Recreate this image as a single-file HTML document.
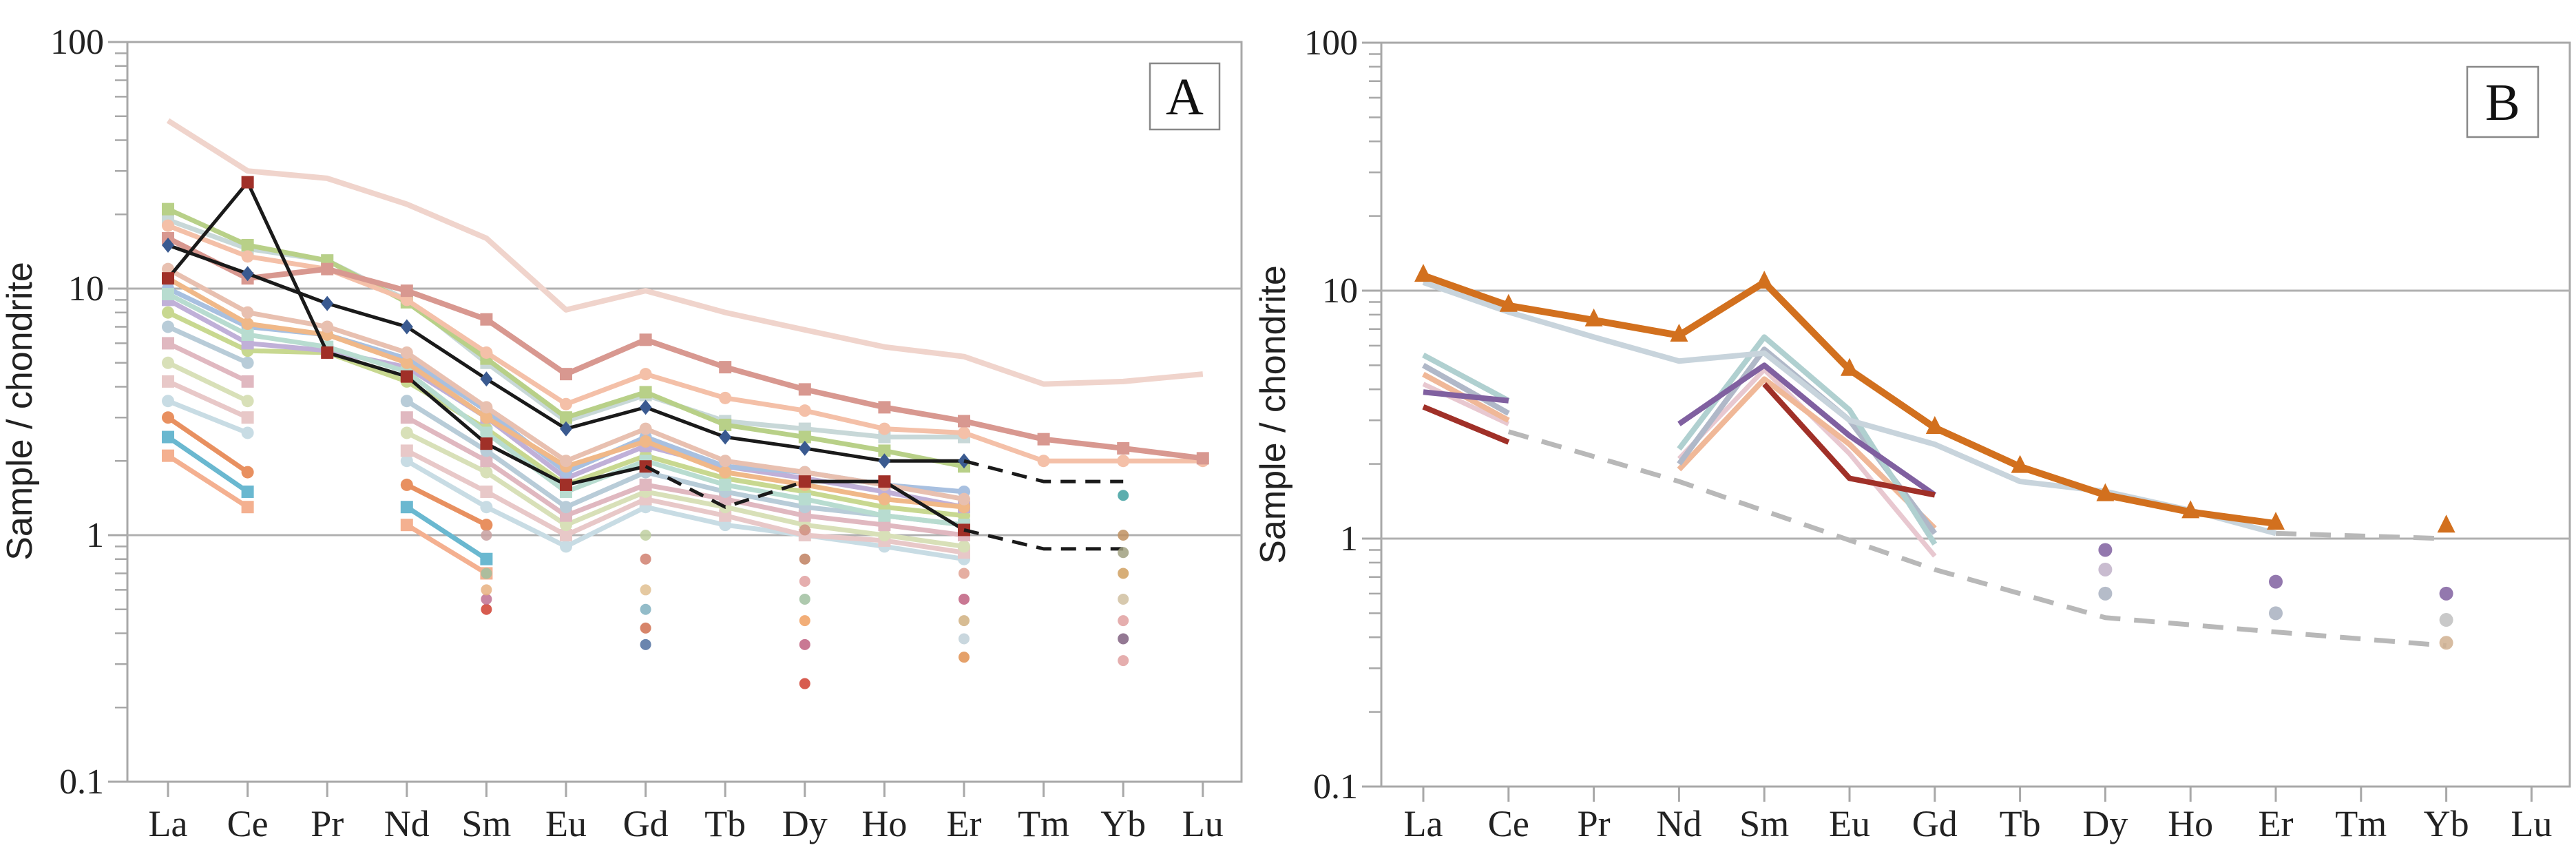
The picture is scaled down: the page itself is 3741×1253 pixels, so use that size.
<!DOCTYPE html>
<html><head><meta charset="utf-8"><style>
html,body{margin:0;padding:0;background:#fff;}
svg{display:block;font-family:"Liberation Serif",serif;}
</style></head><body>
<svg id="chart" width="3741" height="1253" viewBox="0 0 3741 1253">
<g id="panelA"></g>
<g id="panelB"></g>
</svg>
<script>
const elements = ["La","Ce","Pr","Nd","Sm","Eu","Gd","Tb","Dy","Ho","Er","Tm","Yb","Lu"];
const yTicks = [100,10,1,0.1];
const yTickLabels = ["100","10","1","0.1"];

// Panel A series (null = gap)
const aPaleTop   = [48,30,28,22,16,8.2,9.8,8,6.8,5.8,5.3,4.1,4.2,4.5];
const aRose      = [16,11,12,9.8,7.5,4.5,6.2,4.8,3.9,3.3,2.9,2.45,2.25,2.05];
const aPeach     = [18,13.5,12,9,5.5,3.4,4.5,3.6,3.2,2.7,2.6,2.0,2.0,2.0];
const aGreen     = [21,15,13,8.8,5.2,3.0,3.8,2.8,2.5,2.2,1.9,null,null,null];
const aGreyBlue  = [19,14.5,13,9,5,2.9,3.7,2.9,2.7,2.5,2.5,null,null,null];
const aBlack1    = [15,11.5,8.7,7,4.3,2.7,3.3,2.5,2.25,2.0,2.0,null,null,null];
const aBlack1Tail= [null,null,null,null,null,null,null,null,null,null,2.0,1.65,1.65,null];
const aBlack2    = [11,27,5.5,4.4,2.35,1.6,1.9,null,1.65,1.65,1.05,null,null,null];
const aBlack2Gap = [null,null,null,null,null,null,1.9,1.3,1.65,null,null,null,null,null];
const aBlack2Tail= [null,null,null,null,null,null,null,null,null,null,1.05,0.88,0.88,null];
const aL1 = [10,7,6.5,5.2,3.2,1.8,2.5,1.9,1.8,1.6,1.5,null,null,null];
const aL2 = [9,6,5.6,4.8,3,1.7,2.3,1.9,1.7,1.5,1.3,null,null,null];
const aL3 = [8,5.6,5.5,4.2,2.7,1.6,2.1,1.7,1.5,1.3,1.2,null,null,null];
const aL4 = [12,8,7,5.5,3.3,2,2.7,2.0,1.8,1.6,1.4,null,null,null];
const aL5 = [7,5,null,3.5,2.2,1.3,1.8,1.5,1.3,1.2,1.1,null,null,null];
const aL6 = [6,4.2,null,3,2,1.2,1.6,1.4,1.2,1.1,1.0,null,null,null];
const aL7 = [5,3.5,null,2.6,1.8,1.1,1.5,1.3,1.1,1.0,0.9,null,null,null];
const aL8 = [4.2,3,null,2.2,1.5,1.0,1.4,1.2,1.0,0.95,0.85,null,null,null];
const aL9 = [3.5,2.6,null,2.0,1.3,0.9,1.3,1.1,1.0,0.9,0.8,null,null,null];
const aL10= [3,1.8,null,1.6,1.1,null,null,null,null,null,null,null,null,null];
const aL11= [2.5,1.5,null,1.3,0.8,null,null,null,null,null,null,null,null,null];
const aL12= [2.1,1.3,null,1.1,0.7,null,null,null,null,null,null,null,null,null];
const aL13= [11,7.2,6.5,5,3,1.9,2.4,1.8,1.6,1.4,1.3,null,null,null];
const aL14= [9.5,6.5,5.8,4.6,2.6,1.5,2.0,1.6,1.4,1.2,1.1,null,null,null];

const seriesA = [
 {v:aPaleTop,c:"#f0d4cc",w:8,m:"none"},
 {v:aL12,c:"#f4b090",w:7,m:"sq"},{v:aL11,c:"#6ab8d0",w:7,m:"sq"},{v:aL10,c:"#e89060",w:7,m:"ci"},
 {v:aL9,c:"#c8dce4",w:7,m:"ci"},{v:aL8,c:"#e8c8c8",w:7,m:"sq"},{v:aL7,c:"#d8e0b8",w:7,m:"ci"},
 {v:aL6,c:"#e0b8c0",w:7,m:"sq"},{v:aL5,c:"#b8ccd8",w:7,m:"ci"},{v:aL3,c:"#c8d890",w:7,m:"ci"},
 {v:aL2,c:"#c0b0d8",w:7,m:"sq"},{v:aL1,c:"#a8c0e0",w:7,m:"ci"},{v:aL14,c:"#b8dcd0",w:7,m:"sq"},
 {v:aL13,c:"#f0b888",w:7,m:"ci"},{v:aL4,c:"#e8c0b0",w:7,m:"ci"},
 {v:aGreyBlue,c:"#c8d8d8",w:7,m:"sq"},{v:aGreen,c:"#b8d088",w:7,m:"sq"},
 {v:aPeach,c:"#f4c0a8",w:7,m:"ci"},{v:aRose,c:"#d89890",w:8,m:"sq"},
 {v:aBlack1,c:"#1a1a1a",w:5,m:"dia",mc:"#3a5a90"},
 {v:aBlack1Tail,c:"#1a1a1a",w:5,m:"none",dash:"22 14"},
 {v:aBlack2,c:"#1a1a1a",w:5,m:"sq",mc:"#a03028"},
 {v:aBlack2Gap,c:"#1a1a1a",w:5,m:"none",dash:"22 14"},
 {v:aBlack2Tail,c:"#1a1a1a",w:5,m:"none",dash:"22 14"}
];
// Panel A isolated points: [element index, value]
const aPtIdx = [4,4,4,4,4,6,6,6,6,6,6,8,8,8,8,8,8,8,10,10,10,10,10,12,12,12,12,12,12,12,12];
const aPtVal = [0.5,0.55,0.6,0.7,1.0,0.36,0.42,0.5,0.6,0.8,1.0,0.25,0.36,0.45,0.55,0.65,0.8,1.05,0.32,0.38,0.45,0.55,0.7,0.31,0.38,0.45,0.55,0.7,0.85,1.0,1.45];
const aPtCol = ["#d04030","#c07090","#e8b080","#a0c0a0","#c8a0a0","#5070a0","#d07050","#80b0c0","#e0c090","#d08070","#c0d0a0","#d04030","#c06080","#f0a060","#a0c0a0","#e0a0a0","#c08060","#d09080","#e09050","#c0d0d8","#d0b080","#c06080","#e0a090","#e0a0a0","#806080","#e0a0a0","#d0c0a0","#d0a060","#a0a080","#c09060","#40a0a0"];

// Panel B series
const bOrange   = [11.5,8.7,7.6,6.6,10.8,4.8,2.8,1.95,1.5,1.28,1.15,null,null,null];
const bOrangeYb = [null,null,null,null,null,null,null,null,null,null,null,null,1.12,null];
const bLightGrey= [10.8,8.2,6.5,5.2,5.6,3.0,2.4,1.7,1.55,1.3,1.05,null,null,null];
const bGreyDashHi=[null,null,null,null,null,null,null,null,null,null,1.05,null,1.0,null];
const bGreyDashLo=[null,2.7,null,1.7,null,null,0.75,null,0.48,null,0.42,null,0.37,null];
const bDarkRed  = [3.4,2.45,null,null,4.2,1.75,1.5,null,null,null,null,null,null,null];
const bPurple   = [3.9,3.6,null,2.9,5.0,2.6,1.5,null,null,null,null,null,null,null];
const bTeal     = [5.5,3.6,null,2.3,6.5,3.3,0.95,null,null,null,null,null,null,null];
const bBlueGrey = [5.0,3.2,null,2.0,5.8,3.0,1.05,null,null,null,null,null,null,null];
const bPeach    = [4.6,3.0,null,1.9,4.4,2.4,1.1,null,null,null,null,null,null,null];
const bPink     = [4.2,2.9,null,2.1,4.8,2.2,0.85,null,null,null,null,null,null,null];
const seriesB = [
 {v:bGreyDashLo,c:"#b8b8b8",w:7,m:"none",dash:"30 20",connect:true},
 {v:bGreyDashHi,c:"#b8b8b8",w:7,m:"none",dash:"30 20",connect:true},
 {v:bPink,c:"#e8c8d0",w:7,m:"none"},
 {v:bPeach,c:"#f0b898",w:8,m:"none"},
 {v:bBlueGrey,c:"#b0b8c8",w:8,m:"none"},
 {v:bTeal,c:"#b0d0d0",w:8,m:"none"},
 {v:bPurple,c:"#8060a0",w:8,m:"none"},
 {v:bDarkRed,c:"#a03028",w:8,m:"none"},
 {v:bLightGrey,c:"#c8d4dc",w:8,m:"none"},
 {v:bOrange,c:"#d2701e",w:10,m:"tri"},
 {v:bOrangeYb,c:"#d2701e",w:10,m:"tri"}
];
const bPtIdx = [8,8,8,10,10,12,12,12];
const bPtVal = [0.9,0.75,0.6,0.67,0.5,0.6,0.47,0.38];
const bPtCol = ["#8060a0","#c0b0c8","#a8b0c0","#8060a0","#a8b0c0","#8060a0","#c0c0c0","#d0b090"];

const NS="http://www.w3.org/2000/svg";
function mk(tag,attrs,parent){const e=document.createElementNS(NS,tag);for(const k in attrs)e.setAttribute(k,attrs[k]);parent.appendChild(e);return e;}

function drawPanel(g, cfg){
  const xs = i => cfg.x0 + i*cfg.dx;
  const ys = v => cfg.y1 - Math.log10(v)*cfg.dec;
  const frame = mk("rect",{x:cfg.L,y:ys(100),width:cfg.R-cfg.L,height:ys(0.1)-ys(100),fill:"none",stroke:"#a8a8a8","stroke-width":3},g);
  
  
  [10,1].forEach(v=>{
    const gl=mk("line",{x1:cfg.L,x2:cfg.R,y1:ys(v),y2:ys(v),stroke:"#b0b0b0","stroke-width":3},g);
    
    
  });
  for(let d=-1; d<2; d++) for(let k=2;k<=9;k++){
    const v=k*Math.pow(10,d);
    const t=mk("line",{x1:cfg.L-18,x2:cfg.L,y1:ys(v),y2:ys(v),stroke:"#a8a8a8","stroke-width":2.5},g);
    
    
  }
  yTicks.forEach((v,i)=>{
    const t=mk("line",{x1:cfg.L-28,x2:cfg.L,y1:ys(v),y2:ys(v),stroke:"#a8a8a8","stroke-width":3},g);
    
    
    const tx=mk("text",{x:cfg.L-34,y:ys(v)+17,"text-anchor":"end","font-size":52,fill:"#222"},g);
    tx.textContent=yTickLabels[i];
    
    
  });
  elements.forEach((el,i)=>{
    const t=mk("line",{x1:xs(i),x2:xs(i),y1:ys(0.1),y2:ys(0.1)+22,stroke:"#a8a8a8","stroke-width":3},g);
    
    
    const tx=mk("text",{x:xs(i),y:1214,"text-anchor":"middle","font-size":54,fill:"#222"},g);
    tx.textContent=el;
    
    
  });
  const yt=mk("text",{x:0,y:0,"text-anchor":"middle","font-size":52,fill:"#222","font-family":"Liberation Sans, sans-serif",transform:`translate(${cfg.titleX},${ys(1)-180}) rotate(-90)`},g);
  yt.textContent="Sample / chondrite";
  
  
  cfg.series.forEach(s=>{
    let segs=[],cur=[];
    s.v.forEach((v,i)=>{ if(v==null){ if(!s.connect){ if(cur.length) segs.push(cur); cur=[]; } } else cur.push([xs(i),ys(v)]); });
    if(cur.length) segs.push(cur);
    segs.forEach(sg=>{
      if(sg.length>1){
        const p=mk("polyline",{points:sg.map(p=>p.join(",")).join(" "),fill:"none",stroke:s.c,"stroke-width":s.w,"stroke-linejoin":"round","stroke-dasharray":s.dash||"none"},g);
        
        
      }
    });
    if(s.m!=="none"){
      const mc=s.mc||s.c;
      s.v.forEach((v,i)=>{
        if(v==null) return;
        const x=xs(i),y=ys(v);let m;
        if(s.m==="sq") m=mk("rect",{x:x-9,y:y-9,width:18,height:18,fill:mc},g);
        else if(s.m==="ci") m=mk("circle",{cx:x,cy:y,r:9,fill:mc},g);
        else if(s.m==="dia") m=mk("polygon",{points:`${x},${y-11} ${x+9},${y} ${x},${y+11} ${x-9},${y}`,fill:mc},g);
        else m=mk("polygon",{points:`${x},${y-17} ${x+13},${y+9} ${x-13},${y+9}`,fill:mc},g);
        
        
      });
    }
  });
  cfg.ptIdx.forEach((idx,k)=>{
    const c=mk("circle",{cx:xs(idx),cy:ys(cfg.ptVal[k]),r:cfg.ptR,fill:cfg.ptCol[k],opacity:0.85},g);
    
    
  });
  const lb=mk("rect",{x:cfg.box[0],y:cfg.box[1],width:cfg.box[2],height:cfg.box[3],fill:"#fff",stroke:"#888","stroke-width":2.5},g);
  
  
  const lt=mk("text",{x:cfg.box[0]+cfg.box[2]/2,y:cfg.box[1]+cfg.box[3]/2+26,"text-anchor":"middle","font-size":76,fill:"#111"},g);
  lt.textContent=cfg.label;
  
  
}

drawPanel(document.getElementById("panelA"),{L:185,R:1803,x0:244,dx:115.6,y1:777,dec:358,titleX:46,series:seriesA,ptIdx:aPtIdx,ptVal:aPtVal,ptCol:aPtCol,ptR:8,box:[1670,92,101,96],label:"A"});
drawPanel(document.getElementById("panelB"),{L:2006,R:3732,x0:2067,dx:123.8,y1:782,dec:360,titleX:1866,series:seriesB,ptIdx:bPtIdx,ptVal:bPtVal,ptCol:bPtCol,ptR:10,box:[3583,97,103,102],label:"B"});
</script>
</body></html>
